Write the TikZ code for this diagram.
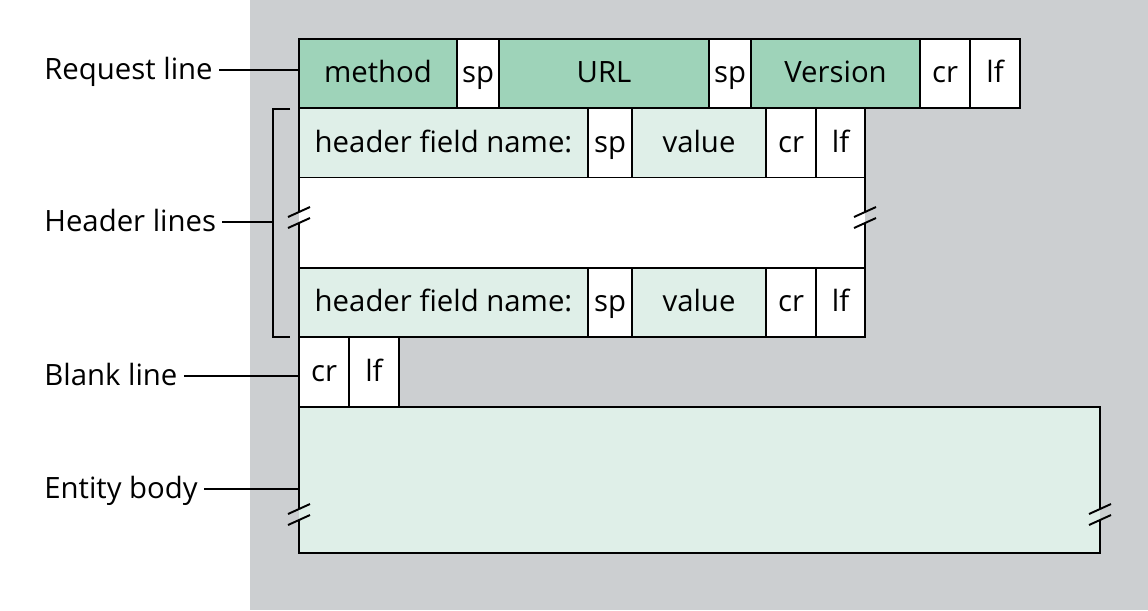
\documentclass[tikz,border=0pt]{standalone}
\usepackage{fontspec}
\setmainfont{Open Sans}
\definecolor{bggray}{RGB}{204,207,209}
\definecolor{dgreen}{RGB}{158,211,185}
\definecolor{lgreen}{RGB}{223,239,232}
\newcommand\mkcell[7]{\node[cellbox, fill=#6, minimum width={(#4-#2)*0.02cm}, minimum height={(#5-#3)*0.02cm}] (#1) at ({(#2+#4)/2},{(#3+#5)/2}) {#7};}
\begin{document}
\begin{tikzpicture}[x=0.02cm,y=-0.02cm,
  txt/.style={font=\fontsize{16.7}{20}\selectfont, text height=2ex, text depth=.05ex},
  cellbox/.style={txt, draw=black, line width=1.1pt, inner sep=0pt},
  lbl/.style={txt, anchor=west, inner sep=0pt},
  conn/.style={line width=0.6pt, shorten <=0.12cm},
  brk/.style={line width=1.1pt},
  slash/.style={line width=1.1pt}]
\useasboundingbox (0,0) rectangle (1148,610);
\fill[bggray] (250,0) rectangle (1148,610);
% request line
\mkcell{method}{299}{39}{457}{108}{dgreen}{method}
\mkcell{spa}{457}{39}{499}{108}{white}{sp}
\mkcell{url}{499}{39}{709}{108}{dgreen}{URL}
\mkcell{spb}{709}{39}{751}{108}{white}{sp}
\mkcell{version}{751}{39}{920}{108}{dgreen}{Version}
\mkcell{cra}{920}{39}{970}{108}{white}{cr}
\mkcell{lfa}{970}{39}{1020}{108}{white}{lf}
% header line 1
\mkcell{hnamea}{299}{108}{588}{178}{lgreen}{header field name:}
\mkcell{hspa}{588}{108}{632}{178}{white}{sp}
\mkcell{hvala}{632}{108}{766}{178}{lgreen}{value}
\mkcell{hcra}{766}{108}{816}{178}{white}{cr}
\mkcell{hlfa}{816}{108}{865}{178}{white}{lf}
% middle (broken)
\node[fill=white, inner sep=0pt, minimum width={566*0.02cm}, minimum height={90*0.02cm}] (hmid) at (582,223) {};
\draw[brk] (hmid.north west) -- ++(0,34) (hmid.south west) -- ++(0,-45);
\draw[brk] (hmid.north east) -- ++(0,34) (hmid.south east) -- ++(0,-45);
\draw[slash] (288,217) -- ++(22,-10) (288,228) -- ++(22,-10);
\draw[slash] (854,217) -- ++(22,-10) (854,228) -- ++(22,-10);
% header line 2
\mkcell{hnameb}{299}{268}{588}{337}{lgreen}{header field name:}
\mkcell{hspb}{588}{268}{632}{337}{white}{sp}
\mkcell{hvalb}{632}{268}{766}{337}{lgreen}{value}
\mkcell{hcrb}{766}{268}{816}{337}{white}{cr}
\mkcell{hlfb}{816}{268}{865}{337}{white}{lf}
% blank line
\mkcell{bcr}{299}{337}{349}{407}{white}{cr}
\mkcell{blf}{349}{337}{399}{407}{white}{lf}
% entity body (broken)
\node[fill=lgreen, inner sep=0pt, minimum width={801*0.02cm}, minimum height={146*0.02cm}] (body) at (699.5,480) {};
\draw[brk] (body.north west) ++(0,102) -- (body.north west) -- (body.north east) -- ++(0,102);
\draw[brk] (body.south west) ++(0,-33) -- (body.south west) -- (body.south east) -- ++(0,-33);
\draw[slash] (288,514) -- ++(22,-10) (288,525) -- ++(22,-10);
\draw[slash] (1089,514) -- ++(22,-10) (1089,525) -- ++(22,-10);
% bracket
\draw[line width=0.6pt] (290,109) -- (273,109) -- (273,337) -- (290,337);
\coordinate (brmid) at (273,223);
% labels
\node[lbl] (reqlbl) at (44,70) {Request line};
\node[lbl] (hdrlbl) at (44,222) {Header lines};
\node[lbl] (blklbl) at (44,376) {Blank line};
\node[lbl] (entlbl) at (44,489) {Entity body};
\draw[conn] (reqlbl.east) -- (reqlbl.east -| method.west);
\draw[conn] (hdrlbl.east) -- (hdrlbl.east -| brmid);
\draw[conn] (blklbl.east) -- (blklbl.east -| bcr.west);
\draw[conn] (entlbl.east) -- (entlbl.east -| body.west);
\end{tikzpicture}
\end{document}
